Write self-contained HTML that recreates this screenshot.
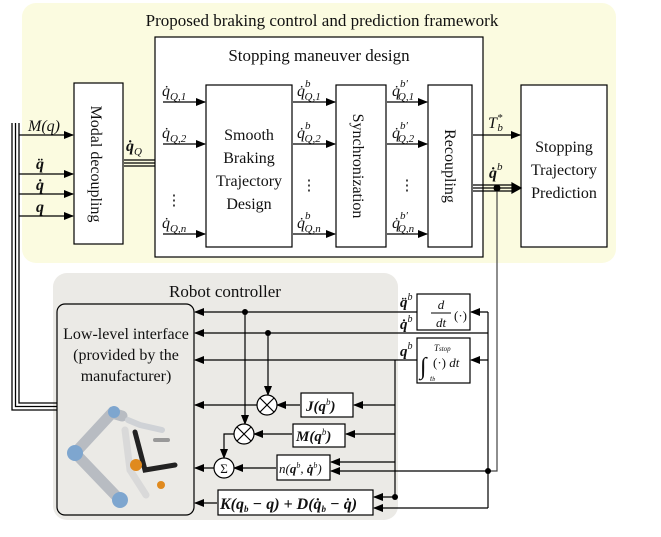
<!DOCTYPE html>
<html><head><meta charset="utf-8"><style>
html,body{margin:0;padding:0;background:#fff}
svg{display:block}
text{font-family:"Liberation Serif",serif;fill:#111}
.m{font-style:italic}
.b{font-weight:bold;font-style:italic}
</style></head><body>
<svg width="661" height="537" viewBox="0 0 661 537" xmlns="http://www.w3.org/2000/svg">
<defs>
<marker id="a" markerWidth="10" markerHeight="8" refX="9" refY="4" orient="auto" markerUnits="userSpaceOnUse">
<path d="M0,0 L10,4 L0,8 z" fill="#000"/></marker>
</defs>
<rect x="22" y="3" width="594" height="260" rx="14" fill="#fbfbe0"/>
<rect x="53" y="273" width="345" height="247" rx="14" fill="#ebeae6"/>
<text x="322" y="26" font-size="17" text-anchor="middle">Proposed braking control and prediction framework</text>
<text x="225" y="297" font-size="17" text-anchor="middle">Robot controller</text>

<g fill="#fff" stroke="#000" stroke-width="1.2">
<rect x="155" y="37" width="328" height="220"/>
<rect x="74" y="83" width="49" height="161"/>
<rect x="206" y="85" width="86" height="162"/>
<rect x="336" y="85" width="50" height="162"/>
<rect x="428" y="85" width="44" height="162"/>
<rect x="521" y="85" width="86" height="162"/>
<rect x="57" y="304" width="137" height="211" rx="8" fill="#ebeae6"/>
<rect x="417" y="294" width="53" height="36"/>
<rect x="417" y="338" width="53" height="45"/>
<rect x="301" y="393" width="52" height="24"/>
<rect x="293" y="424" width="52" height="23"/>
<rect x="277" y="455" width="53" height="25"/>
<rect x="218" y="490" width="155" height="25"/>
</g>
<text x="319" y="61" font-size="17" text-anchor="middle">Stopping  maneuver design</text>
<text transform="translate(91,164) rotate(90)" font-size="16" text-anchor="middle">Modal decoupling</text>
<text transform="translate(353,166) rotate(90)" font-size="16" text-anchor="middle">Synchronization</text>
<text transform="translate(445,166) rotate(90)" font-size="16" text-anchor="middle">Recoupling</text>
<g font-size="16" text-anchor="middle">
<text x="249" y="140">Smooth</text><text x="249" y="163">Braking</text><text x="249" y="186">Trajectory</text><text x="249" y="209">Design</text>
<text x="564" y="152">Stopping</text><text x="564" y="175">Trajectory</text><text x="564" y="198">Prediction</text>
<text x="126" y="339">Low-level interface</text><text x="126" y="360">(provided  by the</text><text x="126" y="381">manufacturer)</text>
</g>

<g stroke="#000" stroke-width="1.2" fill="none">
<path d="M12,123 V410 H57 M15.5,123 V406.5 H57 M19,123 V403 H57" stroke-width="1.3"/>
<g marker-end="url(#a)">
<path d="M19,135 H73"/><path d="M19,174 H73"/><path d="M19,194 H73"/><path d="M19,216 H73"/>
<path d="M163,102 H205"/><path d="M163,144 H205"/><path d="M163,234 H205"/>
<path d="M293,102 H335"/><path d="M293,144 H335"/><path d="M293,234 H335"/>
<path d="M387,102 H427"/><path d="M387,144 H427"/><path d="M387,234 H427"/>
<path d="M473,135 H520"/>
</g>
<path d="M124,160 H155 M124,163 H155 M124,166 H155"/>
<path d="M473,185 H515 M473,188 H515 M473,191 H515" stroke-width="1.3"/>
<path d="M512,183 L521,188 L512,193z" fill="#000"/>
<path d="M497,188 V471 H488" stroke="#444"/>
<path d="M488,312 V508"/>
</g>
<circle cx="497" cy="188" r="3.5" fill="#000"/>
<text x="174" y="205" font-size="15" text-anchor="middle">⋮</text>
<text x="309" y="190" font-size="15" text-anchor="middle">⋮</text>
<text x="407" y="190" font-size="15" text-anchor="middle">⋮</text>

<g font-size="16">
<text x="28" y="131" class="m">M(q)</text>
<text x="36" y="169" class="b">q̈</text>
<text x="36" y="190" class="b">q̇</text>
<text x="36" y="212" class="b">q</text>
<text x="126" y="151" class="b">q̇<tspan font-size="11" dy="4" font-style="italic" font-weight="normal">Q</tspan></text>
<text x="162" y="96" class="m">q̇<tspan font-size="11" dy="4">Q,1</tspan></text>
<text x="162" y="138" class="m">q̇<tspan font-size="11" dy="4">Q,2</tspan></text>
<text x="162" y="228" class="m">q̇<tspan font-size="11" dy="4">Q,n</tspan></text>
<text x="297" y="96" class="m">q̇<tspan font-size="11" dy="-9">b</tspan><tspan font-size="11" dx="-6" dy="13">Q,1</tspan></text>
<text x="297" y="138" class="m">q̇<tspan font-size="11" dy="-9">b</tspan><tspan font-size="11" dx="-6" dy="13">Q,2</tspan></text>
<text x="297" y="228" class="m">q̇<tspan font-size="11" dy="-9">b</tspan><tspan font-size="11" dx="-6" dy="13">Q,n</tspan></text>
<text x="392" y="96" class="m">q̇<tspan font-size="11" dy="-9">b′</tspan><tspan font-size="11" dx="-10" dy="13">Q,1</tspan></text>
<text x="392" y="138" class="m">q̇<tspan font-size="11" dy="-9">b′</tspan><tspan font-size="11" dx="-10" dy="13">Q,2</tspan></text>
<text x="392" y="228" class="m">q̇<tspan font-size="11" dy="-9">b′</tspan><tspan font-size="11" dx="-10" dy="13">Q,n</tspan></text>
<text x="488" y="128" class="m">T<tspan font-size="11" dy="-7">*</tspan><tspan font-size="11" dx="-5" dy="10">b</tspan></text>
<text x="489" y="178" class="b">q̇<tspan font-size="11" dy="-8" font-weight="normal">b</tspan></text>
</g>

<g stroke="#000" stroke-width="1.2" fill="none">
<g marker-end="url(#a)">
<path d="M417,312 H195"/><path d="M488,333 H195"/><path d="M417,360 H195"/>
<path d="M488,312 H471"/><path d="M488,360 H471"/>
<path d="M257,405 H195"/><path d="M300,405 H277"/><path d="M395,405 H354"/>
<path d="M292,434 H254"/><path d="M395,434 H346"/>
<path d="M214,468 H195"/><path d="M276,468 H234"/>
<path d="M395,462 H331"/><path d="M488,471 H331"/>
<path d="M217,503 H195"/><path d="M395,497 H374"/><path d="M488,508 H374"/>
<path d="M268,333 V395"/><path d="M245,312 V424"/>
<path d="M234,434 H224 V458"/>
</g>
<path d="M395,360 V497"/>
</g>
<g fill="#000"><circle cx="245" cy="312" r="3"/><circle cx="268" cy="333" r="3"/><circle cx="395" cy="497" r="3"/><circle cx="488" cy="471" r="3"/></g>
<g stroke="#000" stroke-width="1.2" fill="#fff">
<circle cx="267" cy="405" r="10"/><path d="M260,398 L274,412 M274,398 L260,412"/>
<circle cx="244" cy="434" r="10"/><path d="M237,427 L251,441 M251,427 L237,441"/>
<circle cx="224" cy="468" r="10"/>
</g>
<text x="224" y="473" font-size="13" text-anchor="middle">Σ</text>

<g font-size="15">
<text x="400" y="307" class="b">q̈<tspan font-size="10" dy="-7" font-weight="normal">b</tspan></text>
<text x="400" y="329" class="b">q̇<tspan font-size="10" dy="-7" font-weight="normal">b</tspan></text>
<text x="400" y="356" class="b">q<tspan font-size="10" dy="-7" font-weight="normal">b</tspan></text>
<text x="441" y="309" font-size="13" class="m" text-anchor="middle">d</text>
<path d="M431,313 H451" stroke="#000"/>
<text x="441" y="327" font-size="13" class="m" text-anchor="middle">dt</text>
<text x="454" y="320" font-size="13">(·)</text>
<text x="420" y="374" font-size="24">∫</text>
<text x="434" y="351" font-size="9" class="m">T<tspan font-size="7">stop</tspan></text>
<text x="430" y="381" font-size="8" class="m">t<tspan font-size="6">b</tspan></text>
<text x="433" y="367" font-size="13">(·) <tspan class="m">dt</tspan></text>
<text x="306" y="411" font-size="15" class="b">J(q<tspan font-size="9" dy="-6" font-weight="normal">b</tspan><tspan dy="6">)</tspan></text>
<text x="296" y="441" font-size="15" class="b">M(q<tspan font-size="9" dy="-6" font-weight="normal">b</tspan><tspan dy="6">)</tspan></text>
<text x="279" y="473" font-size="13" class="m">n(<tspan font-weight="bold">q</tspan><tspan font-size="8" dy="-5">b</tspan><tspan dy="5">, </tspan><tspan font-weight="bold">q̇</tspan><tspan font-size="8" dy="-5">b</tspan><tspan dy="5">)</tspan></text>
<text x="220" y="509" font-size="16" class="b">K(q<tspan font-size="9" dy="3">b</tspan><tspan dy="-3"> − q) + D(q̇</tspan><tspan font-size="9" dy="3">b</tspan><tspan dy="-3"> − q̇)</tspan></text>
</g>

<g stroke-linecap="round" fill="none">
<path d="M75,453 L112,413 L122,416" stroke="#b8bcc2" stroke-width="11"/>
<path d="M75,453 L120,500" stroke="#b8bcc2" stroke-width="11"/>
<circle cx="75" cy="453" r="8" fill="#7ea6cf"/>
<circle cx="120" cy="500" r="8" fill="#7ea6cf"/>
<circle cx="114" cy="412" r="6" fill="#7ea6cf"/>
<path d="M128,420 L140,425 L162,430" stroke="#cfd2d6" stroke-width="6"/>
<path d="M125,430 L130,470 L146,495" stroke="#d9d9d9" stroke-width="7"/>
<path d="M135,432 L145,470 L175,465" stroke="#222" stroke-width="5"/>
<circle cx="136" cy="465" r="6" fill="#e08a1e"/>
<circle cx="161" cy="485" r="4" fill="#e08a1e"/>
<path d="M155,440 L168,440" stroke="#999" stroke-width="4"/>
</g>
</svg>
</body></html>
